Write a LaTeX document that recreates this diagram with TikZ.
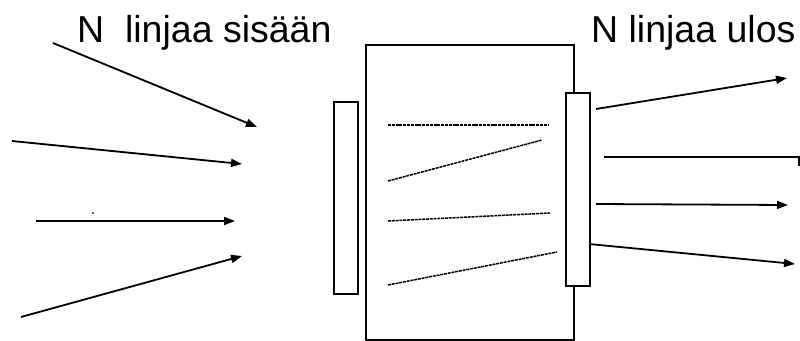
\documentclass[tikz,border=0pt]{standalone}
\usepackage{fontspec}
\setmainfont{Liberation Sans}
\usetikzlibrary{arrows.meta}
\begin{document}
\begin{tikzpicture}[x=1pt,y=-1pt,
  ln/.style={line width=1.8pt},
  arr/.style={ln,-{Triangle[length=11pt,width=8pt]}},
  wire/.style={line width=1.5pt,dash pattern=on 3pt off 0.8pt},
  frame/.style={draw,line width=1.8pt,fill=white,inner sep=0pt,anchor=north west},
  lbl/.style={font=\fontsize{37.5}{40}\selectfont,inner sep=0pt,anchor=base west}]
\useasboundingbox (0,0) rectangle (800,340);
% labels
\node[lbl] (tin) at (77,42) {N\ \ linjaa sisään};
\node[lbl] (tout) at (591,42) {N linjaa ulos};
% main box and side bars
\node[frame,minimum width=208pt,minimum height=295pt] (box) at (365,44) {};
\node[frame,minimum width=24pt,minimum height=192pt] (lbar) at (333,101) {};
\node[frame,minimum width=24pt,minimum height=193pt] (rbar) at (565,92) {};
% inner connections
\coordinate (w1a) at (388,125); \coordinate (w1b) at (548,125);
\coordinate (w2a) at (388,181); \coordinate (w2b) at (542,140);
\coordinate (w3a) at (388,221); \coordinate (w3b) at (550,213);
\coordinate (w4a) at (388,285); \coordinate (w4b) at (557,252);
\draw[wire] (w1a) -- (w1b);
\draw[wire] (w2a) -- (w2b);
\draw[wire] (w3a) -- (w3b);
\draw[wire] (w4a) -- (w4b);
% incoming lines
\coordinate (i1a) at (53,43);  \coordinate (i1b) at (257,127);
\coordinate (i2a) at (12,141); \coordinate (i2b) at (242,164);
\coordinate (i3a) at (36,221); \coordinate (i3b) at (235,221);
\coordinate (i4a) at (21,317); \coordinate (i4b) at (242,256);
\draw[arr] (i1a) -- (i1b);
\draw[arr] (i2a) -- (i2b);
\draw[arr] (i3a) -- (i3b);
\draw[arr] (i4a) -- (i4b);
\fill (93,213) circle (1pt);
% outgoing lines
\coordinate (o1a) at (596,109); \coordinate (o1b) at (787,78);
\coordinate (o2a) at (604,157); \coordinate (o2b) at (799,157);
\coordinate (o2c) at (799,166);
\coordinate (o3a) at (596,204); \coordinate (o3b) at (788,205);
\coordinate (o4a) at (589,244); \coordinate (o4b) at (795,264);
\draw[arr] (o1a) -- (o1b);
\draw[ln] (o2a) -- (o2b) -- (o2c);
\draw[arr] (o3a) -- (o3b);
\draw[arr] (o4a) -- (o4b);
\end{tikzpicture}
\end{document}
